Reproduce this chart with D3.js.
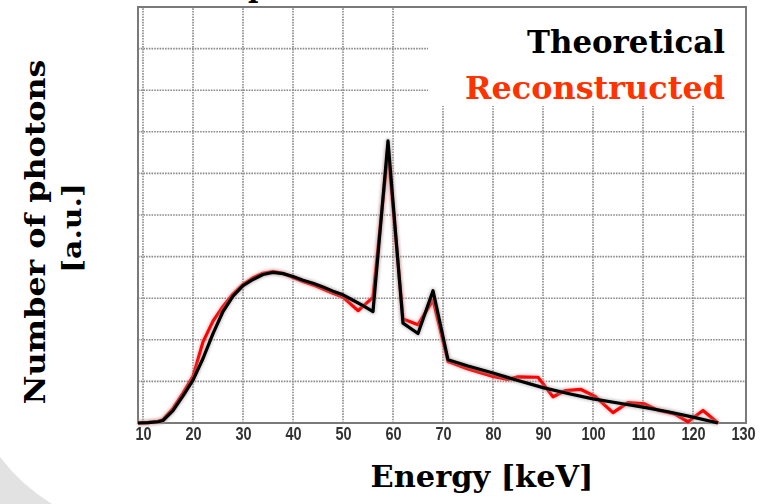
<!DOCTYPE html>
<html>
<head>
<meta charset="utf-8">
<script src="https://cdn.jsdelivr.net/npm/d3@7"></script>
<style>
  html, body { margin: 0; padding: 0; background: #fff; }
  svg { display: block; }
</style>
</head>
<body>
<svg id="chart" width="773" height="504"></svg>
<script>
// Energy ticks (keV)
const xTicks = [10, 20, 30, 40, 50, 60, 70, 80, 90, 100, 110, 120, 130];
const yGrid = [1, 2, 3, 4, 5, 6, 7, 8, 9];

// Theoretical spectrum: energy (keV) and photon count (a.u.)
const theoEnergy = [9, 11, 13, 14, 16, 18, 20, 22, 24, 26, 28, 30, 32, 34, 36, 38, 40, 42, 44, 46, 48, 50, 52, 54, 56, 59, 62, 65, 68, 71, 75, 80, 85, 90, 95, 100, 105, 110, 115, 120, 125];
const theoCount  = [0, 0.01, 0.03, 0.06, 0.3, 0.65, 1.03, 1.55, 2.15, 2.68, 3.05, 3.3, 3.45, 3.57, 3.62, 3.59, 3.52, 3.43, 3.36, 3.27, 3.17, 3.08, 2.95, 2.82, 2.68, 6.78, 2.4, 2.15, 3.18, 1.52, 1.37, 1.2, 1.02, 0.85, 0.71, 0.58, 0.48, 0.38, 0.27, 0.14, 0];

// Reconstructed spectrum
const recEnergy = [9, 11, 13, 14, 16, 18, 20, 22, 24, 26, 28, 30, 32, 34, 36, 38, 40, 42, 44, 46, 48, 50, 53, 56, 59, 62, 65, 68, 71, 75, 80, 83, 85, 89, 92, 94.5, 97.5, 100.5, 104, 107, 110.3, 113, 116.3, 119, 122, 125];
const recCount  = [0, 0.01, 0.04, 0.08, 0.35, 0.72, 1.12, 1.95, 2.45, 2.8, 3.1, 3.33, 3.49, 3.6, 3.64, 3.6, 3.5, 3.4, 3.32, 3.22, 3.12, 3.03, 2.7, 3.02, 6.55, 2.5, 2.36, 2.96, 1.48, 1.3, 1.12, 1.05, 1.11, 1.1, 0.63, 0.78, 0.81, 0.63, 0.25, 0.49, 0.46, 0.31, 0.22, 0.03, 0.3, 0];

const svg = d3.select("#chart");

// light grey backdrop corner
svg.append("path")
  .attr("d", "M0,457 A190,190 0 0 0 52,504 L0,504 Z")
  .attr("fill", "#e2e2e2");

const x = d3.scaleLinear().domain([9, 130.6]).range([138, 746]);
const y = d3.scaleLinear().domain([0, 10]).range([423, 7]);

// blur for the soft lines
const defs = svg.append("defs");
defs.append("filter").attr("id", "soft")
  .attr("x", "-5%").attr("y", "-5%").attr("width", "110%").attr("height", "110%")
  .append("feGaussianBlur").attr("stdDeviation", 0.55);
defs.append("filter").attr("id", "halo")
  .attr("x", "-5%").attr("y", "-5%").attr("width", "110%").attr("height", "110%")
  .append("feGaussianBlur").attr("stdDeviation", 1.4);

// partially cropped title above the frame
const title = svg.append("text")
  .attr("y", -3)
  .attr("font-family", "DejaVu Serif")
  .attr("font-weight", "bold")
  .attr("font-size", 28)
  .attr("fill", "#000")
  .text("Spectrum");
const pOffset = title.node().getSubStringLength(0, 1);
title.attr("x", 248 - pOffset);

// grid
const grid = svg.append("g").attr("stroke", "#8a8a8a").attr("stroke-width", 1.6)
  .attr("stroke-dasharray", "1.6,1.1").attr("fill", "none");
grid.selectAll("line.v").data(xTicks.filter(d => d < 130)).join("line")
  .attr("class", "v")
  .attr("x1", d => x(d)).attr("x2", d => x(d))
  .attr("y1", y(0)).attr("y2", y(10));
grid.selectAll("line.h").data(yGrid).join("line")
  .attr("class", "h")
  .attr("x1", x.range()[0]).attr("x2", x.range()[1])
  .attr("y1", d => y(d)).attr("y2", d => y(d));

// legend panel covers the grid in the upper right
svg.append("rect")
  .attr("x", 428).attr("y", 8).attr("width", 318).attr("height", 98)
  .attr("fill", "#fff");

// frame
svg.append("rect")
  .attr("x", x.range()[0]).attr("y", y(10))
  .attr("width", x.range()[1] - x.range()[0]).attr("height", y(0) - y(10))
  .attr("fill", "none").attr("stroke", "#7a7a7a").attr("stroke-width", 2);

// x axis labels (tall, narrow digits)
const xAxis = d3.axisBottom(x).tickValues(xTicks).tickSize(0);
const gx = svg.append("g").attr("transform", `translate(0,${y(0)})`).call(xAxis);
gx.select(".domain").remove();
gx.selectAll("text")
  .attr("y", 0).attr("dy", 0)
  .attr("transform", "translate(0,16.5) scale(1,1.22)")
  .attr("font-family", "Liberation Sans, Arial, sans-serif")
  .attr("font-weight", "bold")
  .attr("font-size", 14.5)
  .attr("fill", "#333")
  .attr("filter", "url(#soft)");

// spectra
const line = d3.line().x(d => x(d[0])).y(d => y(d[1]));
const recData = d3.zip(recEnergy, recCount);
const theoData = d3.zip(theoEnergy, theoCount);

svg.append("path").datum(recData).attr("d", line)
  .attr("fill", "none").attr("stroke", "#ff9090").attr("stroke-width", 5)
  .attr("stroke-linejoin", "round").attr("opacity", 0.5).attr("filter", "url(#halo)");
svg.append("path").datum(recData).attr("d", line)
  .attr("fill", "none").attr("stroke", "#ff0000").attr("stroke-width", 3.2)
  .attr("stroke-linejoin", "round").attr("filter", "url(#soft)");

svg.append("path").datum(theoData).attr("d", line)
  .attr("fill", "none").attr("stroke", "#9a9a9a").attr("stroke-width", 5.5)
  .attr("stroke-linejoin", "round").attr("opacity", 0.55).attr("filter", "url(#halo)");
svg.append("path").datum(theoData).attr("d", line)
  .attr("fill", "none").attr("stroke", "#000").attr("stroke-width", 3.2)
  .attr("stroke-linejoin", "round").attr("filter", "url(#soft)");

// legend
const serif = "DejaVu Serif, Liberation Serif, serif";
svg.append("text")
  .attr("x", 725).attr("y", 53).attr("text-anchor", "end")
  .attr("font-family", serif).attr("font-weight", "bold").attr("font-size", 31)
  .attr("textLength", 198).attr("lengthAdjust", "spacingAndGlyphs")
  .attr("fill", "#000").text("Theoretical");
svg.append("text")
  .attr("x", 725).attr("y", 99).attr("text-anchor", "end")
  .attr("font-family", serif).attr("font-weight", "bold").attr("font-size", 31)
  .attr("textLength", 260).attr("lengthAdjust", "spacingAndGlyphs")
  .attr("fill", "#ff3300").text("Reconstructed");

// axis titles
svg.append("text")
  .attr("x", 482).attr("y", 487).attr("text-anchor", "middle")
  .attr("font-family", serif).attr("font-weight", "bold").attr("font-size", 30)
  .attr("textLength", 223).attr("lengthAdjust", "spacingAndGlyphs")
  .attr("fill", "#000").text("Energy [keV]");

svg.append("text")
  .attr("transform", "translate(45,232) rotate(-90)")
  .attr("text-anchor", "middle")
  .attr("font-family", serif).attr("font-weight", "bold").attr("font-size", 27)
  .attr("textLength", 345).attr("lengthAdjust", "spacingAndGlyphs")
  .attr("fill", "#000").text("Number of photons");
svg.append("text")
  .attr("transform", "translate(81,228) rotate(-90)")
  .attr("text-anchor", "middle")
  .attr("font-family", serif).attr("font-weight", "bold").attr("font-size", 26)
  .attr("textLength", 90).attr("lengthAdjust", "spacingAndGlyphs")
  .attr("fill", "#000").text("[a.u.]");
</script>
</body>
</html>
